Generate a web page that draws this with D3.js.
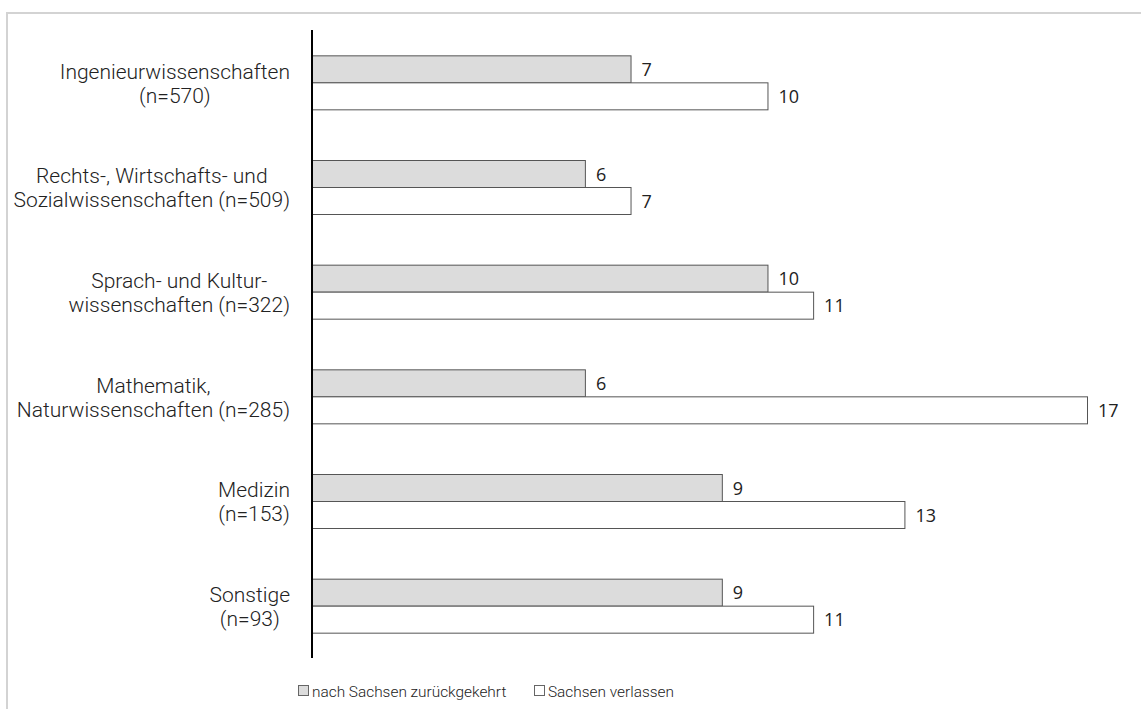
<!DOCTYPE html>
<html><head><meta charset="utf-8">
<script src="https://cdn.jsdelivr.net/npm/d3@7"></script>
<style>
html,body{margin:0;padding:0;background:#fff;}
svg{display:block;}
</style></head>
<body>
<svg id="chart" width="1141" height="709"></svg>
<script>
const categories = [
  ["Ingenieurwissenschaften", "(n=570)"],
  ["Rechts-, Wirtschafts- und", "Sozialwissenschaften (n=509)"],
  ["Sprach- und Kultur-", "wissenschaften (n=322)"],
  ["Mathematik,", "Naturwissenschaften (n=285)"],
  ["Medizin", "(n=153)"],
  ["Sonstige", "(n=93)"]
];
const seriesNames = ["nach Sachsen zurückgekehrt", "Sachsen verlassen"];
const returned = [7, 6, 10, 6, 9, 9];
const left = [10, 7, 11, 17, 13, 11];
const seriesFill = ["#dcdcdc", "#ffffff"];

const svg = d3.select("#chart");
const font = "Roboto, Liberation Sans, Arial, sans-serif";

// frame
svg.append("rect").attr("x", 7).attr("y", 13).attr("width", 1300).attr("height", 900)
  .attr("fill", "none").attr("stroke", "#d3d3d3").attr("stroke-width", 2);

const x = d3.scaleLinear().domain([0, 17]).range([312, 1088]);
const keys = categories.map((c, i) => i);
const y0 = d3.scaleBand().domain(keys).range([30, 658]);
const barH = 27;
const y1 = d3.scaleBand().domain([0, 1]).range([-barH, barH]);

const data = keys.map(i => ({i, vals: [returned[i], left[i]]}));

const g = svg.append("g");
const groups = g.selectAll("g.grp").data(data).enter().append("g")
  .attr("transform", d => `translate(0,${y0(d.i) + y0.bandwidth() / 2})`);

groups.selectAll("rect").data(d => d.vals.map((v, s) => ({v, s}))).enter().append("rect")
  .attr("x", x(0))
  .attr("y", d => y1(d.s) + 0.5)
  .attr("width", d => x(d.v) - x(0) - 0.5)
  .attr("height", y1.bandwidth())
  .attr("fill", d => seriesFill[d.s])
  .attr("stroke", "#555").attr("stroke-width", 1);

groups.selectAll("text.val").data(d => d.vals.map((v, s) => ({v, s}))).enter().append("text")
  .attr("class", "val")
  .attr("x", d => x(d.v) + 10)
  .attr("y", d => y1(d.s) + y1.bandwidth() / 2 + 1)
  .attr("dy", "0.35em")
  .attr("font-family", "Open Sans, sans-serif").attr("font-size", 18).attr("fill", "#222")
  .text(d => d.v);

// category labels
const labelRight = 290;
groups.each(function(d) {
  const gg = d3.select(this);
  const lines = categories[d.i];
  const t = gg.append("g").attr("font-family", font).attr("font-weight", 300)
    .attr("font-size", 21).attr("fill", "#222");
  const texts = lines.map((ln, k) => t.append("text")
    .attr("y", (k - (lines.length - 1) / 2) * 24 + 1)
    .attr("dy", "0.35em")
    .attr("text-anchor", "middle")
    .text(ln));
  const maxW = d3.max(texts, tx => tx.node().getComputedTextLength());
  texts.forEach(tx => tx.attr("x", labelRight - maxW / 2));
});

// axis line
svg.append("line").attr("x1", x(0)).attr("x2", x(0)).attr("y1", 30).attr("y2", 658)
  .attr("stroke", "#000").attr("stroke-width", 2);

// legend
const legend = svg.append("g").attr("font-family", font).attr("font-weight", 300)
  .attr("font-size", 15.4).attr("fill", "#222");
const legX = [298, 534];
seriesNames.forEach((name, s) => {
  legend.append("rect").attr("x", legX[s] + 0.5).attr("y", 685.5).attr("width", 10).attr("height", 10)
    .attr("fill", seriesFill[s]).attr("stroke", "#666").attr("stroke-width", 1);
  legend.append("text").attr("x", legX[s] + 14).attr("y", 697).text(name);
});
</script>
</body></html>
